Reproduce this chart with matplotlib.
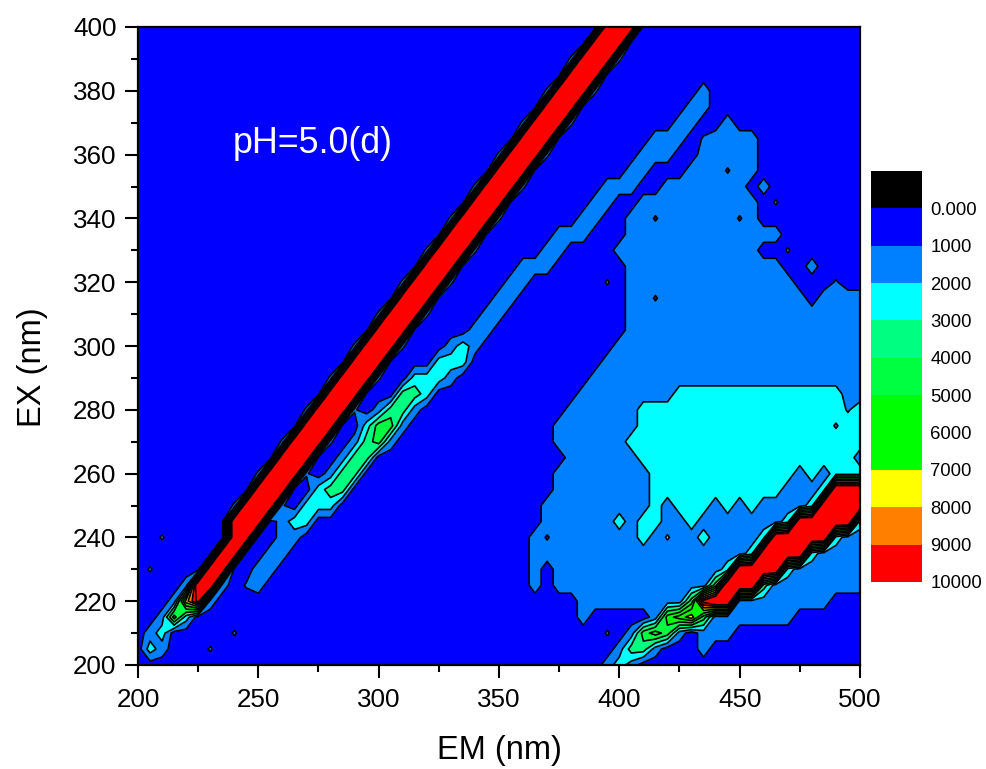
import numpy as np
import matplotlib
matplotlib.use("Agg")
import matplotlib.pyplot as plt
from matplotlib.colors import ListedColormap
from matplotlib.ticker import MultipleLocator

plt.rcParams['font.family'] = ['Liberation Sans', 'DejaVu Sans']

# intensity, one char per cell (EM 200..500 step 5), rows EX 400 down to 200
# groups of ten: 200-245 250-295 300-345 350-395 400-445 450-495 500
em = np.arange(200, 505, 5)
ex = np.arange(400, 195, -5)
rows = [
    "0000000000 0000000000 0000000000 000000000c cc00000000 0000000000 0",  # 400
    "0000000000 0000000000 0000000000 00000000cc c000000000 0000000000 0",
    "0000000000 0000000000 0000000000 000000dccc d000000000 0000000000 0",
    "0000000000 0000000000 0000000000 000000ccc0 0000000000 0000000000 0",
    "0000000000 0000000000 0000000000 0000dcccd0 0000000100 0000000000 0",  # 380
    "0000000000 0000000000 0000000000 0000ccc000 0000001100 0000000000 0",
    "0000000000 0000000000 0000000000 00dcccd000 0000011001 0000000000 0",
    "0000000000 0000000000 0000000000 00ccc00000 0001110d11 1100000000 0",
    "0000000000 0000000000 0000000000 dcccd00000 0011100111 1100000000 0",  # 360
    "0000000000 0000000000 0000000000 ccc0000000 011000111e 1100000000 0",
    "0000000000 0000000000 00000000dc ccd0000001 1100111111 1010000000 0",
    "0000000000 0000000000 00000000cc c000000011 0011111111 110d000000 0",
    "0000000000 0000000000 000000dccc d000000110 011e111111 e100000000 0",  # 340
    "0000000000 0000000000 000000ccc0 0000011100 0111111111 1111000000 0",
    "0000000000 0000000000 0000dcccd0 0000110000 1111111111 1100d00000 0",
    "0000000000 0000000000 0000ccc000 0011100000 0111111111 1111001000 0",
    "0000000000 0000000000 00dcccd000 011000000d 0111111111 11111000d0 0",  # 320
    "0000000000 0000000000 00ccc00000 1100000000 011e111111 1111110111 1",
    "0000000000 0000000000 dcccd00001 1000000000 0111111111 1111111111 1",
    "0000000000 0000000000 ccc0000011 0000000000 0111111111 1111111111 1",
    "0000000000 00000000dc ccd0001210 0000000000 1111111111 1111111111 1",  # 300
    "0000000000 00000000cc c000022200 0000000001 1111111111 1111111111 1",
    "0000000000 000000dccc d002221000 0000000011 1111111111 1111111111 1",
    "0000000000 000000ccc0 0033200000 0000000111 1111122222 2222222221 1",
    "0000000000 0000dcccd0 1331000000 0000001111 1122222222 222222222f 2",  # 280
    "0000000000 0000ccc002 4410000000 0000011111 1122222222 22222222f2 2",
    "0000000000 00dcccd013 4100000000 0000011111 1222222222 2222222222 2",
    "0000000000 00ccc00133 0000000000 0000001111 1122222222 2222222222 1",
    "0000000000 dcccd01330 0000000000 0000011111 1112222222 2222212122 2",  # 260
    "0000000000 ccc0023300 0000000000 0000011111 1112222222 22221112cc c",
    "00000000dc ccd0222000 0000000000 0000111111 1112122212 1211112ccc c",
    "00000000cc c012200000 0000000000 0000111111 2122112111 11112ccccc 2",
    "00d00000cc 0011000000 0000000000 0001e11111 1121b11211 112ccccc21 1",  # 240
    "0000000cc0 0110000000 0000000000 0001111111 1111111111 12cccc2111 1",
    "0d0000cc00 1100000000 0000000000 0001011111 1111111112 cccc211111 1",
    "00001cc10d 1000000000 0000000000 0001011111 111111114c cc31111111 1",
    "00017a1000 0000000000 0000000000 0000000111 1111114acc 1111111100 0",  # 220
    "0015200000 0000000000 0000000000 0000000100 0001567411 1111100000 0",
    "01200000d0 0000000000 0000000000 000000000d 0145410111 0000000000 0",
    "021000d000 0000000000 0000000000 0000000000 1331000100 0000000000 0",
    "0000000000 0000000000 0000000000 0000000001 2100000000 0000000000 0",  # 200
]
# b, d, e, f are the tiny spots just over or under a contour, c is off scale
cell_values = {'b': 2100, 'c': 12500, 'd': 1100, 'e': 900, 'f': 1900}

levels = [1000, 2000, 3000, 4000, 5000, 6000, 7000, 8000, 9000, 10000]
band_colors = ['#0000ff', '#0080ff', '#00ffff', '#00ff80', '#00ff40', '#00ff00',
               '#00ff00', '#ffff00', '#ff8000', '#ff0000']
bar_labels = ['0.000', '1000', '2000', '3000', '4000', '5000', '6000', '7000', '8000', '9000', '10000']


def decode(row):
    row = row.replace(' ', '')
    return [cell_values.get(c, int(c, 16) * 1000 + 500) for c in row]


z = np.array([decode(r) for r in rows], dtype=float)

fig = plt.figure(figsize=(9.87, 7.69), dpi=100)
ax = fig.add_axes([138 / 987, 1 - 665 / 769, 722 / 987, 638 / 769])

bounds = [0] + levels + [20000]
fill_colors = band_colors + ['#ff0000']
ax.contourf(em, ex, z, levels=bounds, colors=fill_colors)
ax.contour(em, ex, z, levels=levels, colors='k', linewidths=1.2)

ax.set_xlim(200, 500)
ax.set_ylim(200, 400)
ax.xaxis.set_major_locator(MultipleLocator(50))
ax.xaxis.set_minor_locator(MultipleLocator(25))
ax.yaxis.set_major_locator(MultipleLocator(20))
ax.yaxis.set_minor_locator(MultipleLocator(10))
ax.tick_params(which='major', length=9.4, width=1.5, labelsize=18.7)
ax.tick_params(axis='x', which='major', pad=7.3)
ax.tick_params(axis='y', which='major', pad=6)
ax.tick_params(which='minor', length=5, width=1.5)
for s in ax.spines.values():
    s.set_linewidth(1.6)
ax.set_xlabel('EM (nm)', fontsize=23.5)
ax.set_ylabel('EX (nm)', fontsize=23.5)
ax.xaxis.set_label_coords(0.5007, -0.11)
ax.yaxis.set_label_coords(-0.1247, 0.467)
ax.text(239.5, 363.6, 'pH=5.0(d)', color='white', fontsize=25.8, va='center', ha='left')

# colour bar, black box on top then the bands going down
cax = fig.add_axes([871 / 987, 1 - 582 / 769, 51 / 987, 411 / 769])
bar_colors = ['#000000'] + band_colors
cmap = ListedColormap(bar_colors)
cax.pcolormesh([0, 1], np.arange(len(bar_colors) + 1), np.arange(len(bar_colors)).reshape(-1, 1), cmap=cmap)
cax.set_ylim(len(bar_colors), 0)
cax.set_xticks([])
cax.yaxis.tick_right()
cax.set_yticks(np.arange(1, len(bar_colors) + 1))
cax.set_yticklabels(bar_labels, fontsize=13.3)
cax.tick_params(axis='y', length=0, pad=6)
for s in cax.spines.values():
    s.set_visible(False)

fig.savefig('out.png', dpi=100)
